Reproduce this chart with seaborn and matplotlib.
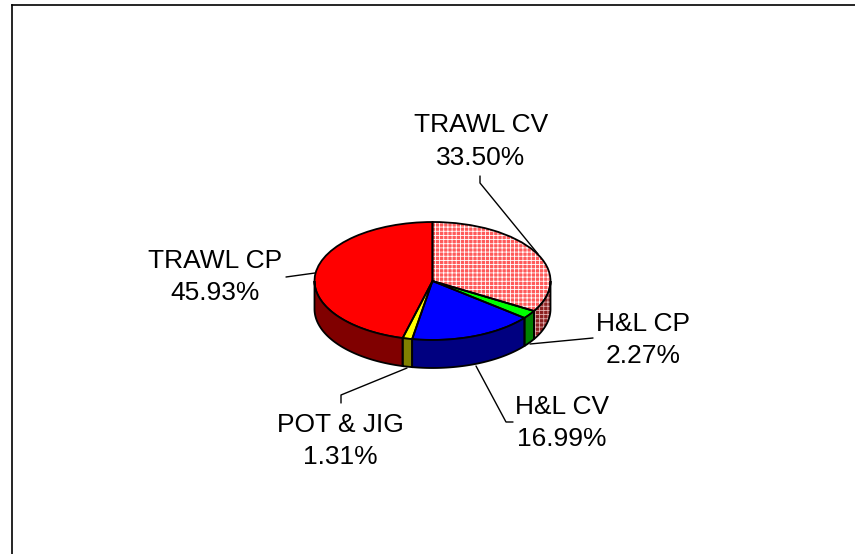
import numpy as np
import matplotlib
matplotlib.use("Agg")
import matplotlib.pyplot as plt
import seaborn as sns
from matplotlib.transforms import Affine2D

# values, clockwise from 12 o'clock
categories = ["TRAWL CV", "H&L CP", "H&L CV", "POT & JIG", "TRAWL CP"]
shares = [33.50, 2.27, 16.99, 1.31, 45.93]
top_colors = ["#ff5a5a", "#00ff00", "#0000ff", "#ffff00", "#ff0000"]
side_colors = ["#8c2020", "#008000", "#000080", "#808000", "#800000"]

W, H = 855, 554
CX, CY, RX, RY = 432.5, 281, 118, 59
DEPTH = 28 / RY
BORDER_X, BORDER_Y = 12, 4.5

# label anchor in pixels: centre x, baseline of name, baseline of percent
label_pos = [(481, 132, 165), (643, 331, 363), (562, 414, 446), (340, 432, 464), (215.5, 268, 300)]
leaders = [
    [(480, 176), (480, 183), (538, 254)],
    [(530, 344), (593, 338)],
    [(476, 366), (506, 422), (513, 422)],
    [(407, 368), (341, 395), (341, 403)],
    [(315, 273), (286, 277)],
]

sns.set_style("white")
plt.rcParams["font.family"] = ["Liberation Sans", "DejaVu Sans"]
plt.rcParams["hatch.linewidth"] = 0.6

fig = plt.figure(figsize=(W / 100, H / 100), dpi=100)
ax = fig.add_axes([BORDER_X / W, 0, (W - BORDER_X) / W, (H - BORDER_Y) / H])
px = Affine2D().scale(1 / W, -1 / H).translate(0, 1) + fig.transFigure

# top face, squashed into an ellipse by the axes limits
faces, _ = ax.pie(shares, colors=top_colors, startangle=90, counterclock=False,
                  wedgeprops=dict(linewidth=0))
faces[0].set_edgecolor("white")
faces[0].set_hatch("++++")
outlines, _ = ax.pie(shares, startangle=90, counterclock=False,
                     wedgeprops=dict(linewidth=1.3, edgecolor="black"))
for w in outlines:
    w.set_facecolor("none")

# rim: only the front half of the cylinder shows
edges = 90 - np.cumsum([0] + shares) * 3.6
for i, color in enumerate(side_colors):
    start = min(edges[i], 0)
    end = max(edges[i + 1], -180)
    if start <= end:
        continue
    th = np.radians(np.linspace(start, end, 60))
    xs = np.r_[np.cos(th), np.cos(th[::-1])]
    ys = np.r_[np.sin(th), np.sin(th[::-1]) - DEPTH]
    ax.fill(xs, ys, facecolor=color, edgecolor="none", linewidth=0, zorder=2)
    if i == 0:
        ax.fill(xs, ys, facecolor="none", edgecolor="#e0b0b0", hatch="++++", linewidth=0, zorder=2.1)
    ax.fill(xs, ys, facecolor="none", edgecolor="black", linewidth=1.3, zorder=2.2)

for name, share, (x, y1, y2), pts in zip(categories, shares, label_pos, leaders):
    ax.text(x, y1, name, transform=px, ha="center", va="baseline", fontsize=19, color="black")
    ax.text(x, y2, f"{share:.2f}%", transform=px, ha="center", va="baseline", fontsize=19, color="black")
    ax.plot(*zip(*pts), transform=px, color="black", linewidth=1.0, clip_on=False, zorder=3)

ax.set_aspect("auto")
ax.set_xlim((BORDER_X - CX) / RX, (W - CX) / RX)
ax.set_ylim(-(H - CY) / RY, (CY - BORDER_Y) / RY)
ax.set_frame_on(True)
ax.set_xticks([])
ax.set_yticks([])
sns.despine(ax=ax, top=False, left=False, right=True, bottom=True)
for s in ("top", "left"):
    ax.spines[s].set_color("black")
    ax.spines[s].set_linewidth(1.2)

fig.savefig("out.png", dpi=100)
